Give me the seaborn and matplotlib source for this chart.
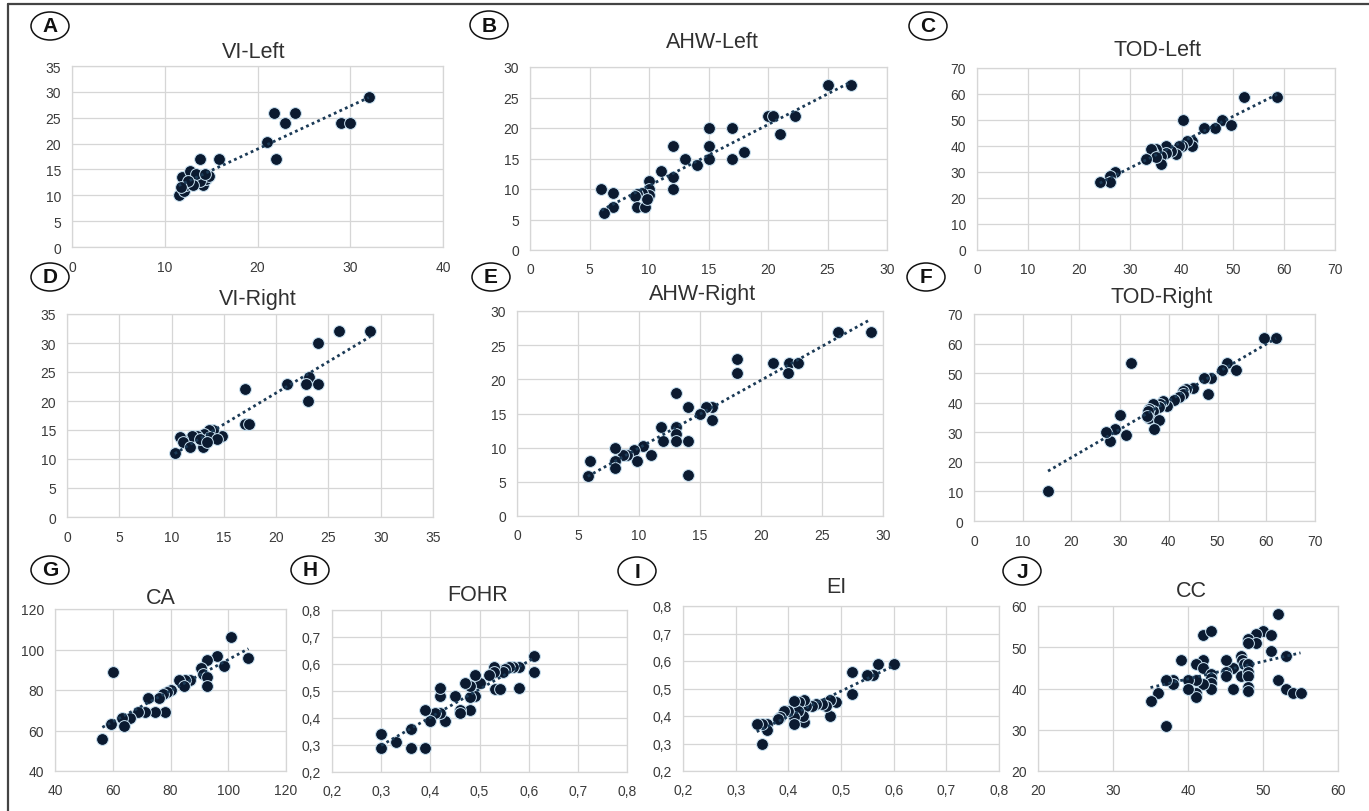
import matplotlib
matplotlib.use("Agg")
import matplotlib.pyplot as plt
import seaborn as sns
import numpy as np
from matplotlib.patches import Ellipse
from matplotlib.lines import Line2D

sns.set_theme(style="whitegrid")
plt.rcParams['font.family'] = ['Liberation Sans', 'DejaVu Sans']

# ---------------- data ----------------
vi_left_x = [32, 29, 30, 21.8, 24, 23, 21, 22, 15.9, 13.8,
             11.9, 12.7, 11.5, 12.1, 12.3, 12.8, 13.4, 13.7, 14.1, 14.5,
             14.8, 13.8, 13.4, 13.0, 12.5, 11.8, 14.3]
vi_left_y = [29, 24, 24, 26, 26, 24, 20.4, 17, 17, 17,
             13.6, 14.6, 10, 10.9, 11.9, 12.8, 12.5, 13.8, 11.9, 13.2,
             13.8, 12.8, 14.1, 11.9, 12.8, 11.6, 14.1]

ahw_left_x = [25, 27, 20, 20.4, 22.3, 21, 18, 17, 17, 15, 15, 15, 14, 13, 12, 12, 12,
              11, 10, 10, 10, 9.4, 9, 8.8, 9, 9.7, 7, 7, 6, 6.2, 9.8]
ahw_left_y = [27, 27, 22, 22, 22, 19, 16, 20, 15, 20, 17, 15, 14, 15, 17, 12, 10,
              13, 11.3, 10, 9, 9.4, 9.2, 8.9, 7, 7, 9.3, 7, 10, 6, 8.3]

tod_left_x = [58.7, 52.2, 40.2, 48, 49.6, 46.5, 44.4, 42, 42, 41, 40, 39.5, 39, 38, 37,
              37, 36, 36, 35, 34.4, 34, 35, 33, 27, 26, 26, 24]
tod_left_y = [59, 59, 50, 50, 48, 47, 47, 42, 40, 42, 40, 40, 37, 38, 40,
              37.5, 36, 33, 39, 37.5, 39, 35.6, 35, 30, 28.5, 26, 26]

vi_right_x = [29, 26, 24, 23.1, 22.9, 24, 21, 23, 17, 17, 17.4, 14.8, 14, 13.6, 13.1,
              12.4, 12, 11, 10.8, 11.1, 11.8, 13, 13.7, 14.3, 10.3, 12.7, 13.4]
vi_right_y = [32, 32, 30, 24.2, 23, 23, 23, 20, 22, 16, 16, 14, 15, 15, 14.3,
              14, 14, 13.5, 13.8, 13, 12, 12, 13.8, 13.5, 11, 13.5, 12.9]

ahw_right_x = [29, 26.3, 21, 22.3, 23, 22.2, 18, 18, 16, 15.5, 16, 15, 14, 13, 13, 13,
               13, 14, 14, 11.8, 12, 11, 10.3, 9.6, 9.8, 9, 8.7, 8, 8, 8, 6, 5.8]
ahw_right_y = [27, 27, 22.4, 22.4, 22.4, 21, 23, 21, 16, 16, 14, 15, 16, 18, 13, 12,
               11, 11, 6, 13, 11, 9, 10.2, 9.7, 8, 9, 9, 10, 8, 7, 8, 5.8]

tod_right_x = [62, 59.5, 52, 53.8, 51, 48.6, 47.2, 48, 45, 43.6, 43, 43, 42, 41, 39.6,
               38.9, 38.2, 37.9, 36.8, 36.8, 36, 36, 38, 37, 35.8, 35.5, 32.2, 30, 31.2,
               29, 28, 27, 15.2]
tod_right_y = [62, 62, 53.5, 51, 51, 48.5, 48.5, 43, 45, 44.6, 44, 43, 41.8, 41, 39,
               40.6, 39.5, 38.4, 39.5, 37.3, 37.8, 35, 34, 31, 37.3, 35.6, 53.5, 36, 29,
               31, 27, 30, 10]

ca_x = [101, 107, 96, 92.8, 98.7, 90.5, 91.4, 92.8, 92.8, 60, 86.8, 85, 83, 84.8, 80,
        78.7, 77.3, 76, 72.2, 78, 74.6, 71, 68.8, 66, 63.3, 63.9, 59.4, 56.4]
ca_y = [106, 96, 96.6, 95, 92, 91, 88, 86.5, 82, 89, 85, 85, 85, 82, 80,
        79, 78, 76, 76, 69, 69, 69, 69, 66, 66, 62, 63, 56]

fohr_x = [0.61, 0.61, 0.58, 0.58, 0.568, 0.56, 0.552, 0.548, 0.53, 0.53, 0.52, 0.531,
          0.541, 0.50, 0.49, 0.49, 0.48, 0.48, 0.48, 0.47, 0.46, 0.46, 0.45, 0.43,
          0.42, 0.41, 0.42, 0.42, 0.40, 0.39, 0.39, 0.36, 0.36, 0.33, 0.30, 0.30]
fohr_y = [0.63, 0.57, 0.51, 0.59, 0.59, 0.59, 0.582, 0.57, 0.59, 0.57, 0.56, 0.508,
          0.508, 0.53, 0.56, 0.48, 0.477, 0.43, 0.52, 0.53, 0.43, 0.42, 0.48, 0.39,
          0.42, 0.42, 0.48, 0.51, 0.39, 0.43, 0.29, 0.36, 0.29, 0.31, 0.34, 0.29]

ei_x = [0.60, 0.57, 0.56, 0.55, 0.52, 0.52, 0.49, 0.48, 0.48, 0.472, 0.463, 0.453,
        0.444, 0.434, 0.43, 0.43, 0.428, 0.42, 0.418, 0.41, 0.41, 0.41, 0.40, 0.392,
        0.384, 0.38, 0.36, 0.36, 0.35, 0.34, 0.35]
ei_y = [0.59, 0.59, 0.55, 0.55, 0.56, 0.48, 0.45, 0.46, 0.40, 0.438, 0.444, 0.444,
        0.438, 0.438, 0.46, 0.38, 0.40, 0.45, 0.42, 0.456, 0.396, 0.37, 0.42, 0.42,
        0.398, 0.39, 0.37, 0.35, 0.37, 0.37, 0.30]

cc_x = [52, 50, 49, 51, 48, 49, 48, 51, 53, 47, 47.2, 47.4, 48, 46, 45, 45, 45, 47,
        48, 48, 48, 48, 46, 52, 53, 54, 55, 42, 43, 42, 41, 42, 43, 43, 43, 43, 42,
        41, 41, 41, 40, 40, 39, 38, 38, 37, 37, 36, 35]
cc_y = [58, 54, 53.3, 53, 52, 51, 51, 49, 48, 48, 47, 46, 46, 45, 47, 44, 43, 43,
        44, 43, 40.4, 39.5, 40, 42, 40, 39, 39, 53, 54, 47, 46, 45, 43.5, 42.5, 41.3,
        40, 41, 42, 39, 38, 42, 40, 47, 42, 41, 42, 31, 39, 37]

ticks_vi_l = [0, 10, 20, 30, 40]
ticks_35 = [0, 5, 10, 15, 20, 25, 30, 35]
ticks_30 = [0, 5, 10, 15, 20, 25, 30]
ticks_70 = [0, 10, 20, 30, 40, 50, 60, 70]
ticks_ca = [40, 60, 80, 100, 120]
ticks_ratio = [0.2, 0.3, 0.4, 0.5, 0.6, 0.7, 0.8]
labels_ratio = ["0,2", "0,3", "0,4", "0,5", "0,6", "0,7", "0,8"]
ticks_cc = [20, 30, 40, 50, 60]

letters = ["A", "B", "C", "D", "E", "F", "G", "H", "I", "J"]
titles = ["VI-Left", "AHW-Left", "TOD-Left", "VI-Right", "AHW-Right", "TOD-Right",
          "CA", "FOHR", "EI", "CC"]

def lbl(t):
    return [str(v) for v in t]

series = [
    (vi_left_x, vi_left_y, ticks_vi_l, lbl(ticks_vi_l), ticks_35, lbl(ticks_35)),
    (ahw_left_x, ahw_left_y, ticks_30, lbl(ticks_30), ticks_30, lbl(ticks_30)),
    (tod_left_x, tod_left_y, ticks_70, lbl(ticks_70), ticks_70, lbl(ticks_70)),
    (vi_right_x, vi_right_y, ticks_35, lbl(ticks_35), ticks_35, lbl(ticks_35)),
    (ahw_right_x, ahw_right_y, ticks_30, lbl(ticks_30), ticks_30, lbl(ticks_30)),
    (tod_right_x, tod_right_y, ticks_70, lbl(ticks_70), ticks_70, lbl(ticks_70)),
    (ca_x, ca_y, ticks_ca, lbl(ticks_ca), ticks_ca, lbl(ticks_ca)),
    (fohr_x, fohr_y, ticks_ratio, labels_ratio, ticks_ratio, labels_ratio),
    (ei_x, ei_y, ticks_ratio, labels_ratio, ticks_ratio, labels_ratio),
    (cc_x, cc_y, ticks_cc, lbl(ticks_cc), ticks_cc, lbl(ticks_cc)),
]

# ---------------- layout (pixels) ----------------
W, H = 1369, 812
boxes = [(72, 67, 443, 248), (530, 68, 887, 251), (977, 69, 1335, 251),
         (67, 315, 433, 518), (517, 312, 883, 517), (974, 315, 1315, 522),
         (55, 610, 286, 772), (332, 611, 627, 773), (683, 607, 999, 772),
         (1038, 607, 1338, 772)]
letter_pos = [(50, 27), (489, 26), (928, 27), (50, 278), (491, 278), (926, 278),
              (50, 571), (310, 571), (637, 572), (1022, 572)]
title_pos = [(254, 53), (712, 42), (1158, 50), (258, 300), (703, 295), (1162, 298),
             (161, 598), (478, 596), (836, 588), (1191, 592)]

fig = plt.figure(figsize=(W / 100, H / 100), dpi=100)
fig.patch.set_facecolor("white")

dot_color = "#0b1a30"
for i, (xs, ys, xt, xl, yt, yl) in enumerate(series):
    l, t, r, b = boxes[i]
    ax = fig.add_axes([l / W, 1 - b / H, (r - l) / W, (b - t) / H])
    ax.set_facecolor("white")
    sns.regplot(x=np.array(xs), y=np.array(ys), ax=ax, ci=None, truncate=True,
                color=dot_color,
                scatter_kws=dict(s=72, alpha=1, edgecolors="#c9e2f2", linewidths=0.7,
                                 zorder=3),
                line_kws=dict(color="#1b3a56", lw=2.0, linestyle=(0, (1, 1.2)),
                              zorder=4))
    ax.set_xlim(xt[0], xt[-1])
    ax.set_ylim(yt[0], yt[-1])
    ax.set_xticks(xt)
    ax.set_xticklabels(xl)
    ax.set_yticks(yt)
    ax.set_yticklabels(yl)
    ax.set_xlabel("")
    ax.set_ylabel("")
    ax.grid(True, color="#d6d6d6", lw=0.9)
    ax.set_axisbelow(True)
    for sp in ax.spines.values():
        sp.set_color("#d6d6d6")
        sp.set_linewidth(0.9)
    ax.tick_params(axis="both", length=0, labelsize=10, colors="#3a3a3a")
    ax.tick_params(axis="x", pad=9)
    ax.tick_params(axis="y", pad=8)

    cx, cy = letter_pos[i]
    fig.add_artist(Ellipse((cx / W, 1 - cy / H), 38 / W, 28 / H,
                           transform=fig.transFigure, fill=False, ec="#111111", lw=1.1))
    fig.text(cx / W, 1 - cy / H, letters[i], ha="center", va="center",
             fontsize=15, fontweight="bold", color="#111111")
    tx, ty = title_pos[i]
    fig.text(tx / W, 1 - ty / H, titles[i], ha="center", va="center",
             fontsize=15.5, color="#303030")

# outer frame
fig.add_artist(Line2D([8 / W, 8 / W], [0, 1 - 5 / H], transform=fig.transFigure,
                      color="#444444", lw=1.6))
fig.add_artist(Line2D([8 / W, 1], [1 - 5 / H, 1 - 5 / H], transform=fig.transFigure,
                      color="#444444", lw=1.6))

fig.savefig("out.png", dpi=100, facecolor="white")
